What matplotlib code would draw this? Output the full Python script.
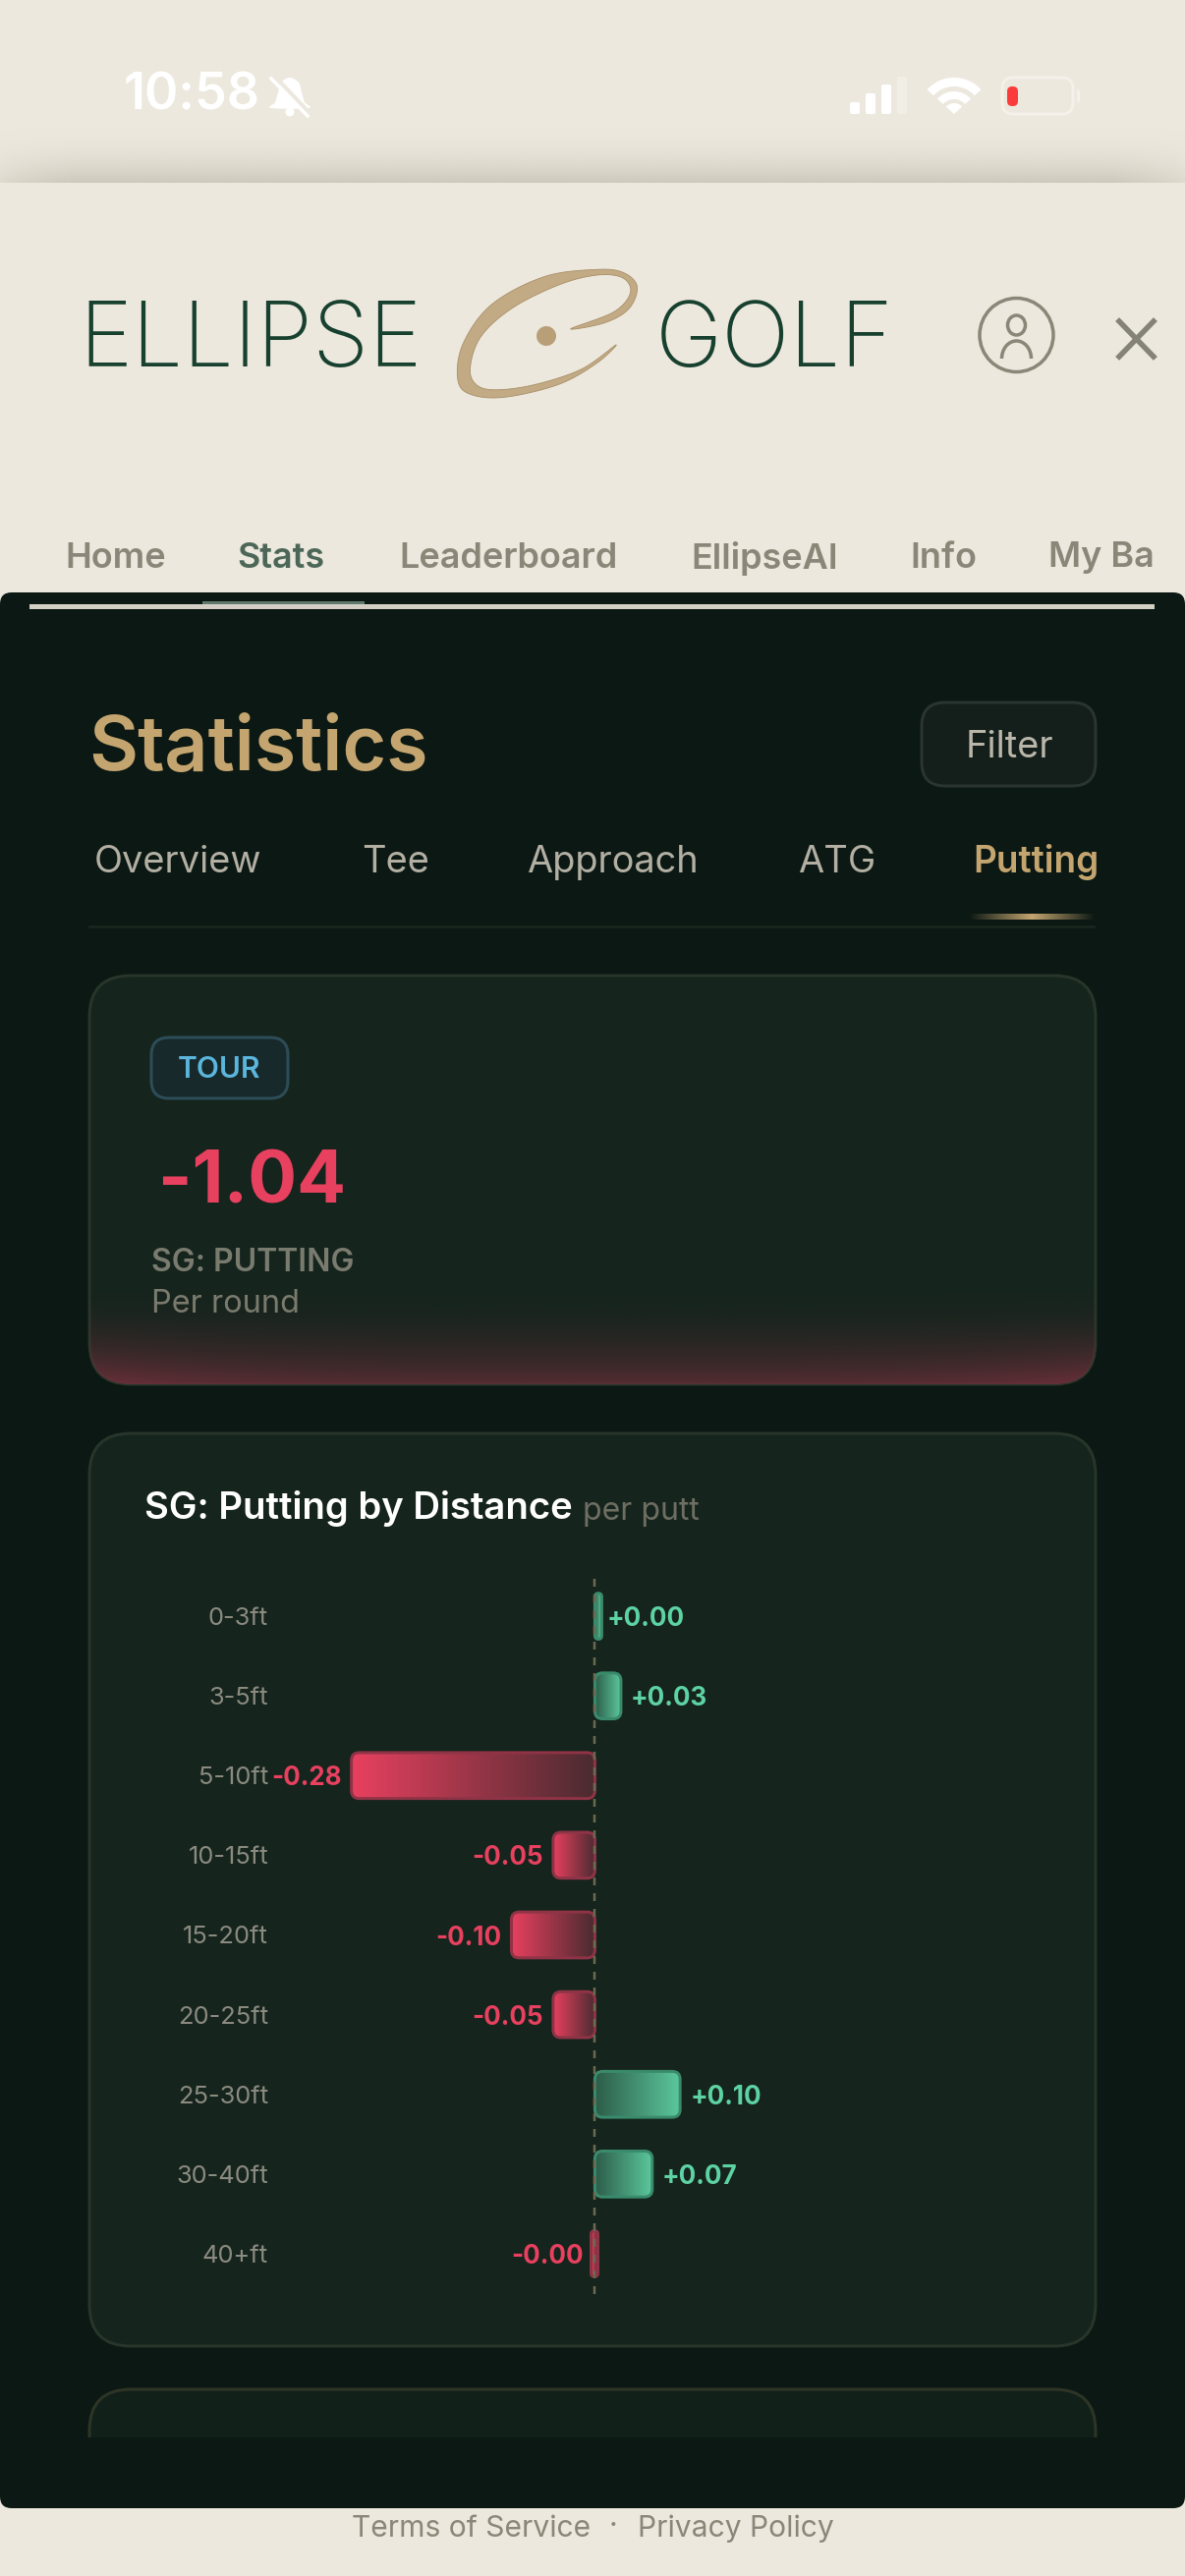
import numpy as np
import matplotlib
matplotlib.use("Agg")
import matplotlib.pyplot as plt
from matplotlib.patches import FancyBboxPatch, Circle, Wedge, Rectangle, Polygon, Ellipse, Arc
from matplotlib.colors import to_rgb

# chart values
distances = ["0-3ft", "3-5ft", "5-10ft", "10-15ft", "15-20ft", "20-25ft", "25-30ft", "30-40ft", "40+ft"]
sg_values = [0.002, 0.03, -0.28, -0.048, -0.096, -0.048, 0.098, 0.066, -0.002]
sg_labels = ["+0.00", "+0.03", "-0.28", "-0.05", "-0.10", "-0.05", "+0.10", "+0.07", "-0.00"]

nav_items = ["Home", "Stats", "Leaderboard", "EllipseAI", "Info", "My Ba"]
nav_x = [66, 241, 406, 703, 926, 1067]
tab_items = ["Overview", "Tee", "Approach", "ATG", "Putting"]
tab_x = [96, 368, 536, 812, 990]

W, H = 1206, 2622
BEIGE = "#ece8dd"
PANEL = "#0b1813"
CARD = "#15241d"
GOLD = "#c4a570"
RED = "#e8405f"
GREEN = "#5dd3a4"
FONT = ["Inter", "DejaVu Sans"]


def px(s):
    return s * 0.72


def rbox(ax, x, y, w, h, r, fc, ec="none", lw=0, z=2):
    p = FancyBboxPatch((x, y), w, h, boxstyle=f"round,pad=0,rounding_size={r}",
                       fc=fc, ec=ec, lw=px(lw), zorder=z)
    ax.add_patch(p)
    return p


def label(ax, x, y, s, size, color, ha="left", weight="normal", family=FONT, z=5):
    return ax.text(x, y + 3, s, fontsize=px(size), color=color, ha=ha, va="center",
                   fontweight=weight, family=family, zorder=z)


def grad_h(ax, x0, x1, y0, y1, c0, c1, clip=None, z=3):
    c0, c1 = np.array(to_rgb(c0)), np.array(to_rgb(c1))
    t = np.linspace(0, 1, 128)[None, :, None]
    im = ax.imshow(c0 + (c1 - c0) * t, extent=(x0, x1, y1, y0), aspect="auto",
                   interpolation="bilinear", zorder=z)
    if clip is not None:
        im.set_clip_path(clip)
    return im


def smooth(points, n=14):
    # closed catmull-rom outline for the logo swoosh
    p = np.array(points, float)
    out = []
    for i in range(len(p)):
        a, b, c, d = p[i - 1], p[i], p[(i + 1) % len(p)], p[(i + 2) % len(p)]
        for t in np.linspace(0, 1, n, endpoint=False):
            out.append(0.5 * (2 * b + (c - a) * t + (2 * a - 5 * b + 4 * c - d) * t ** 2
                              + (3 * b - a - 3 * c + d) * t ** 3))
    return np.array(out)


fig = plt.figure(figsize=(W / 100, H / 100), dpi=100, facecolor=BEIGE)
ui = fig.add_axes([0, 0, 1, 1])
ui.set_axis_off()

# shadow under the status bar
yy = np.linspace(0, 1, 80)[:, None]
xx = np.linspace(0, 1, 300)[None, :]
edge = np.clip(np.minimum(xx, 1 - xx) / 0.06, 0, 1) ** 0.7
shade = np.zeros((80, 300, 4))
shade[..., :3] = to_rgb("#cdc9bd")
shade[..., 3] = (yy ** 2.2) * (0.45 + 0.55 * edge)
ui.imshow(shade, extent=(0, W, 186, 125), aspect="auto", zorder=1)

# status bar
label(ui, 126, 95, "10:58", 52, "white", weight="semibold")
bell = smooth([(295, 79), (304, 84), (307, 94), (310, 104), (314, 110), (276, 110), (280, 104), (283, 94), (286, 84)])
ui.add_patch(Polygon(bell, fc="white", ec="none", zorder=3))
ui.add_patch(Circle((295, 114), 4.5, fc="white", ec="none", zorder=3))
ui.plot([281, 316], [79, 116], color=BEIGE, lw=px(4), zorder=4)
ui.plot([276, 313], [80, 118], color="white", lw=px(3.5), zorder=4)
for bx, bh, fc in zip([865, 881, 897, 913], [12, 21, 30, 38], ["white", "white", "white", "#f1eee6"]):
    rbox(ui, bx, 116 - bh, 10, bh, 2, fc, z=3)
ui.add_patch(Wedge((971, 116), 37, 222, 318, width=9, fc="white", ec="none", zorder=3))
ui.add_patch(Wedge((971, 116), 23, 222, 318, width=8, fc="white", ec="none", zorder=3))
ui.add_patch(Wedge((971, 116), 11, 222, 318, fc="white", ec="none", zorder=3))
rbox(ui, 1020, 79, 72, 37, 11, "none", "#f4f1ea", 3, z=3)
rbox(ui, 1025, 88, 11, 20, 5, "#fb3b3b", z=4)
rbox(ui, 1096, 91, 3, 13, 1.5, "#f4f1ea", z=3)

# logo
logo = "#17402f"
label(ui, 80, 346, "ELLIPSE", 92, logo, weight="light")
label(ui, 667, 346, "GOLF", 92, logo, weight="light")
z = np.array([(755, 820), (800, 805), (832, 770), (843, 715), (825, 680), (790, 672), (720, 690), (650, 760),
              (612, 860), (606, 950), (625, 985), (670, 990), (740, 958), (790, 905), (815, 860),
              (770, 920), (710, 958), (660, 972), (632, 962), (622, 920), (636, 840), (678, 768),
              (740, 710), (790, 686), (824, 693), (834, 730), (812, 778)], float)
z = z / [1.3, 2.45]
ui.add_patch(Polygon(smooth(z), fc="#c2aa85", ec="#a98f68", lw=0.6, zorder=3))
ui.add_patch(Ellipse((556, 342), 20, 20, fc="#b89f78", ec="none", zorder=3))

# account icon and close
ui.add_patch(Circle((1034.5, 341), 37.5, fc="none", ec="#8a8678", lw=px(3.5), zorder=3))
ui.add_patch(Ellipse((1034.5, 331), 18, 20, fc="none", ec="#8a8678", lw=px(3.5), zorder=3))
ui.add_patch(Arc((1034.5, 365), 30, 36, theta1=180, theta2=360, ec="#8a8678", lw=px(3.5), zorder=3))
ui.plot([1139, 1174], [327, 363], color="#858277", lw=px(5.5), zorder=3)
ui.plot([1139, 1174], [363, 327], color="#858277", lw=px(5.5), zorder=3)

# nav row
for name, x in zip(nav_items, nav_x):
    on = name == "Stats"
    label(ui, x, 565, name, 36, "#4c6757" if on else "#8a8678", weight="semibold")

# dark panel
panel = rbox(ui, 0, 603, W, 1950, 12, PANEL, z=2)
ui.add_patch(Rectangle((30, 615), 1145, 5, fc="#d3cfc4", ec="none", zorder=3))
ui.add_patch(Rectangle((206, 612), 165, 3, fc="#5f7a6a", ec="none", zorder=3))

label(ui, 90, 760, "Statistics", 77, GOLD, weight="semibold")
rbox(ui, 938, 715, 177, 85, 24, "#141f1b", "#2a3531", 3)
label(ui, 1027, 758, "Filter", 38, "#bab6a9", ha="center")

for name, x in zip(tab_items, tab_x):
    on = name == "Putting"
    label(ui, x, 875, name, 37 if on else 38, GOLD if on else "#b3afa3", weight="semibold" if on else "normal")

t = np.linspace(0, 1, 129)
under = np.zeros((1, 129, 4))
under[..., :3] = to_rgb(GOLD)
under[0, :, 3] = 1 - np.abs(2 * t - 1)
ui.imshow(under, extent=(986, 1115, 936, 930), aspect="auto", zorder=3)
ui.add_patch(Rectangle((90, 942), 1025, 3, fc="#18251f", ec="none", zorder=3))

# summary card
card1 = rbox(ui, 91, 993, 1024, 416, 42, CARD, "#28352a", 3)
glow = np.zeros((100, 200, 4))
glow[..., :3] = to_rgb("#6b2f3a")
gy = np.linspace(0, 1, 100)[:, None]
gx = np.abs(np.linspace(-1, 1, 200))[None, :]
glow[..., 3] = np.clip(gy ** 2.2 * (0.72 + 0.28 * gx ** 4), 0, 1)
im = ui.imshow(glow, extent=(91, 1115, 1409, 1300), aspect="auto", zorder=3)
im.set_clip_path(card1)
rbox(ui, 154, 1056, 139, 62, 18, "#17292b", "#2c4d58", 3, z=4)
label(ui, 223, 1086, "TOUR", 30, "#5bb5dc", ha="center", weight="semibold")
label(ui, 161, 1202, "-1.04", 74, RED, weight="bold")
label(ui, 154, 1282, "SG: PUTTING", 32, "#7a7b6f", weight="semibold")
label(ui, 154, 1325, "Per round", 32.5, "#7a7a6d")

# chart card
rbox(ui, 91, 1459, 1024, 929, 42, CARD, "#28352a", 3)
label(ui, 147, 1533, "SG: Putting by Distance", 38.3, "white", weight="semibold")
label(ui, 593, 1535, "per putt", 32, "#6e6e62")

# next card, cut off by the panel footer
card3 = rbox(ui, 91, 2432, 1024, 300, 42, "#12201a", "#2e3526", 3)
card3.set_clip_path(Rectangle((80, 2425), 1050, 56, transform=ui.transData))

# footer
label(ui, 358, 2571, "Terms of Service", 30, "#8a8678")
label(ui, 624, 2569, "·", 30, "#8a8678", ha="center")
label(ui, 649, 2571, "Privacy Policy", 30, "#8a8678")

ui.set_xlim(0, W)
ui.set_ylim(H, 0)

# bars: zero sits at x=605.4 px, 885 px per unit
left, right, top, bottom = 280, 1060, 1604.5, 2334.5
ax = fig.add_axes([left / W, 1 - bottom / H, (right - left) / W, (bottom - top) / H])
ax.patch.set_alpha(0)
ax.set_xlim((left - 605.4) / 885, (right - 605.4) / 885)
ax.set_ylim(len(distances) - 0.5, -0.5)
for s in ax.spines.values():
    s.set_visible(False)
ax.set_xticks([])
ax.set_yticks(range(len(distances)))
ax.set_yticklabels(distances, fontsize=px(25.5), color="#8b8b80", family=FONT)
ax.tick_params(axis="y", length=0, pad=px(7))
ax.axvline(0, color="#6b6a4f", lw=px(2.5), dashes=(3.2, 3.2), zorder=5)

bars = ax.barh(range(len(distances)), sg_values, height=0.576, color="none", edgecolor="none")
to_ui = ax.transData + ui.transData.inverted()
for bar, v, txt, i in zip(bars, sg_values, sg_labels, range(len(distances))):
    (x0, y0), (x1, y1) = to_ui.transform([(bar.get_x(), bar.get_y()), (bar.get_x() + bar.get_width(), bar.get_y() + bar.get_height())])
    x0, x1 = min(x0, x1), max(x0, x1)
    y0, y1 = min(y0, y1), max(y0, y1)
    neg = v < 0
    # near-zero bars keep a minimum width like the app does
    if x1 - x0 < 7:
        if neg:
            x0, x1 = 601.5, 608.5
        else:
            x1 = x0 + 7
    r = min(8, (x1 - x0) / 2)
    shape = rbox(ui, x0, y0, x1 - x0, y1 - y0, r, "none", "#8f3346" if neg else "#3a8b6c", 3, z=4)
    back = rbox(ui, x0, y0, x1 - x0, y1 - y0, r, "none", z=3)
    c0, c1 = ("#e8405f", "#4a2b30") if neg else ("#2c5c49", "#5bc79c")
    grad_h(ui, x0, x1, y0, y1, c0, c1, clip=back)
    off = -px(10) if neg else px(10)
    ax.annotate(txt, (v, i), xytext=(off, -px(3)), textcoords="offset points", ha="right" if neg else "left",
                va="center", fontsize=px(26), fontweight="bold", color=RED if neg else GREEN, family=FONT)

ui.set_xlim(0, W)
ui.set_ylim(H, 0)
fig.savefig("out.png", dpi=100, facecolor=BEIGE)
